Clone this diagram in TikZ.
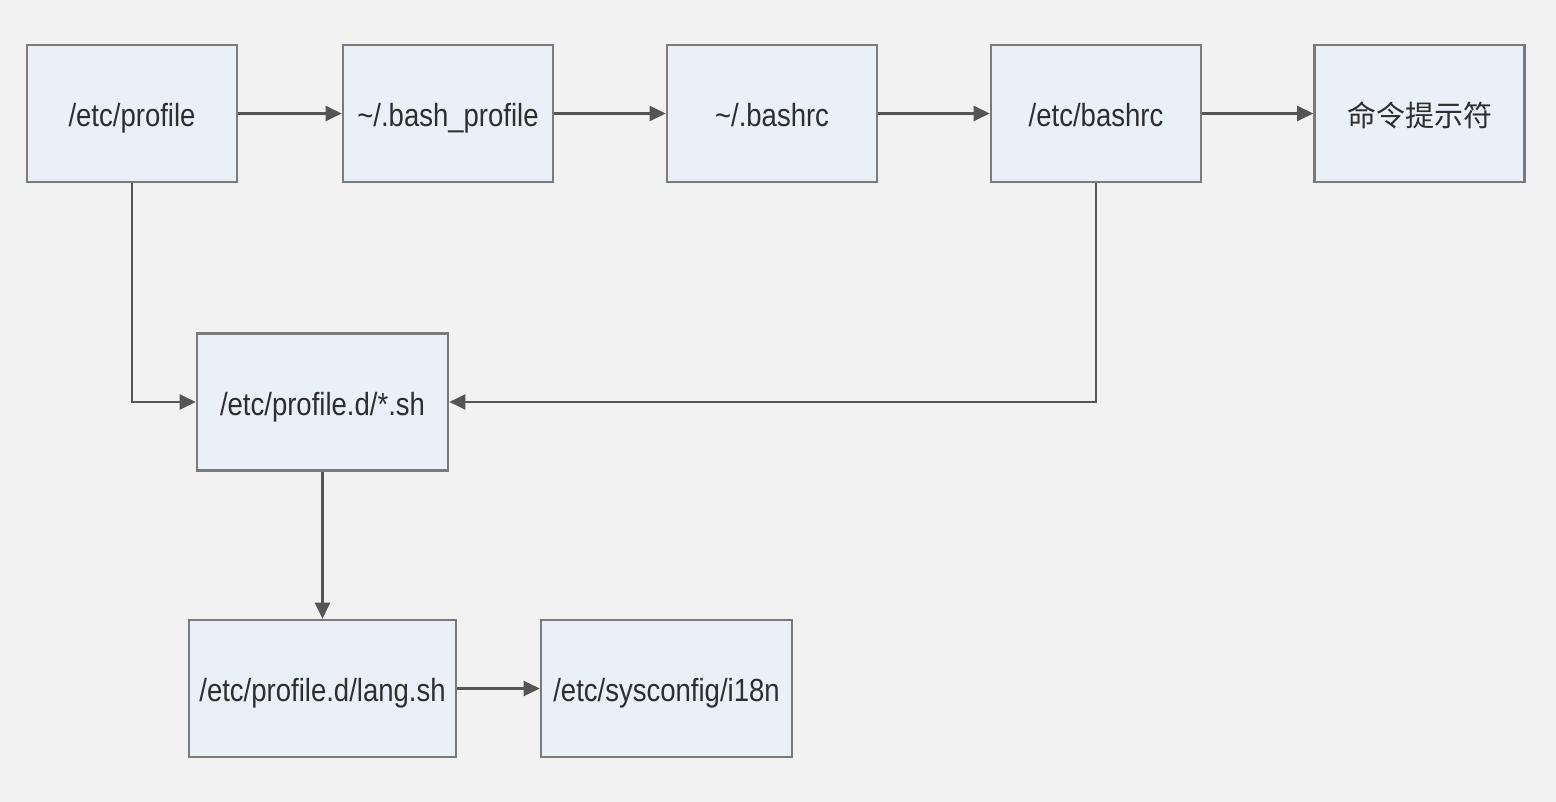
\documentclass[tikz,border=0pt]{standalone}
\usepackage{fontspec}
\setmainfont{Liberation Sans}[FakeStretch=0.86]
\newfontfamily\cjk{Noto Sans CJK SC}
\usetikzlibrary{arrows.meta}
\definecolor{bgc}{HTML}{F2F2F2}
\definecolor{boxfill}{HTML}{E9F0F7}
\definecolor{boxline}{HTML}{7A7A7A}
\definecolor{arrc}{HTML}{555555}
\definecolor{txtc}{HTML}{2E2E2E}
\tikzset{
  fbox/.style={draw=boxline, fill=boxfill, line width=1.3pt, rectangle,
    minimum width=105pt, minimum height=68.5pt, inner sep=0pt,
    text height=13pt, text depth=0pt,
    font=\fontsize{16}{18}\selectfont, text=txtc},
  conn/.style={draw=arrc, line width=1.1pt, -{Triangle[length=8pt,width=7.5pt]}}
}
\begin{document}
\begin{tikzpicture}[x=0.5pt,y=-0.5pt]
\useasboundingbox[fill=bgc] (0,0) rectangle (1556,802);
\node[fbox] (p) at (132,113.5) {/etc/profile};
\node[fbox] (bp) at (448,113.5) {\textasciitilde/.bash\_profile};
\node[fbox] (br) at (772,113.5) {\textasciitilde/.bashrc};
\node[fbox] (ebr) at (1096,113.5) {/etc/bashrc};
\node[fbox, font=\cjk\fontsize{14.5}{16}\selectfont] (cmd) at (1419.5,113.5) {命令提示符};
\node[fbox, minimum width=125.5pt] (pd) at (322.5,402) {/etc/profile.d/*.sh};
\node[fbox, minimum width=133.5pt] (lang) at (322.5,688.5) {/etc/profile.d/lang.sh};
\node[fbox, minimum width=125.5pt] (i18n) at (666.5,688.5) {/etc/sysconfig/i18n};
\draw[conn] (p.east) -- (bp.west);
\draw[conn] (bp.east) -- (br.west);
\draw[conn] (br.east) -- (ebr.west);
\draw[conn] (ebr.east) -- (cmd.west);
\draw[conn] (p.south) |- (pd.west);
\draw[conn] (ebr.south) |- (pd.east);
\draw[conn] (pd.south) -- (lang.north);
\draw[conn] (lang.east) -- (i18n.west);
\end{tikzpicture}
\end{document}
